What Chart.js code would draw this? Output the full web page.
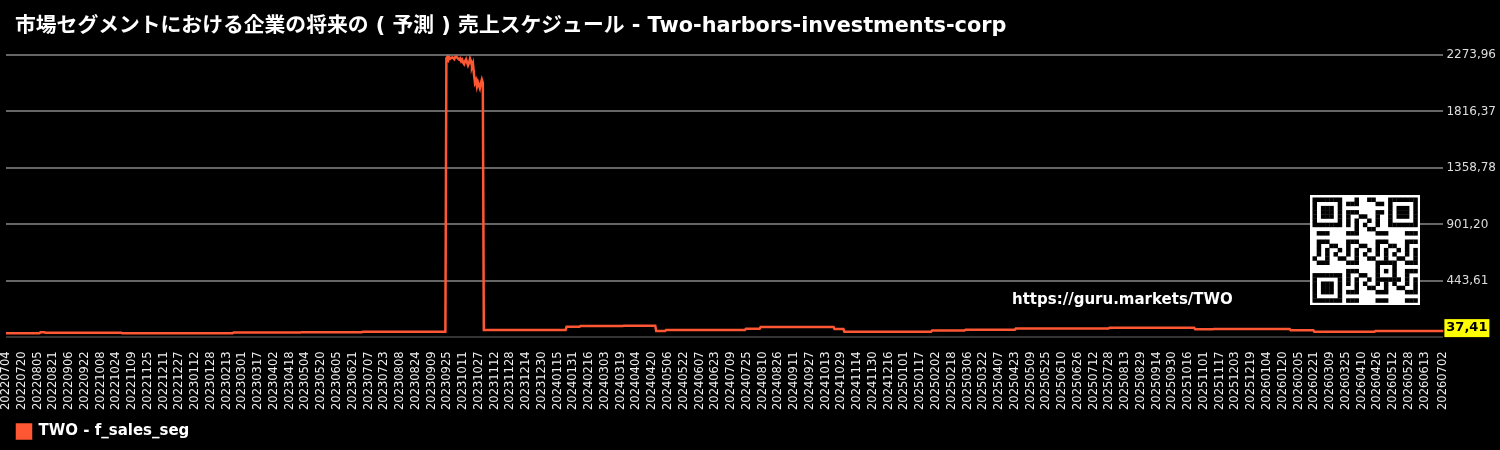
<!DOCTYPE html>
<html>
<head>
<meta charset="utf-8">
<script src="https://cdn.jsdelivr.net/npm/chart.js@4.4.0/dist/chart.umd.min.js"></script>
<style>
  html, body { margin: 0; padding: 0; background: #000; }
  #wrap { width: 1500px; height: 450px; }
</style>
</head>
<body>
<div id="wrap"><canvas id="salesChart" width="1500" height="450"></canvas></div>
<script>
// Données
const chartTitle = '市場セグメントにおける企業の将来の ( 予測 ) 売上スケジュール - Two-harbors-investments-corp';
const firstDay = '20220704';
const lastDay = '20260702';
const seriesName = 'TWO - f_sales_seg';
const lineColor = '#ff5733';

// paliers : date de début -> valeur
const segStart = ['20220704', '20220808', '20220813', '20221030', '20230220', '20230430', '20230701',
  '20231101', '20240124', '20240207', '20240322', '20240424', '20240504', '20240724', '20240808',
  '20241022', '20241101', '20250129', '20250304', '20250424', '20250728', '20251023', '20251111',
  '20260128', '20260221', '20260424'];
const segValue = [21, 29, 24, 21, 27, 29, 32,
  47, 73, 78, 81, 38, 46, 57, 70,
  54, 33, 43, 49, 58, 65, 53, 55,
  45, 33, 37.41];

// pic journalier (fin 2023)
const spikeStart = '20230924';
const spikeValues = [2248, 2258, 2235, 2255, 2244, 2252, 2255, 2250, 2240, 2258, 2260, 2252, 2244, 2236,
  2246, 2225, 2236, 2212, 2200, 2226, 2240, 2215, 2190, 2208, 2245, 2225, 2180, 2205, 2120, 2050,
  2070, 2020, 2055, 2030, 2005, 2045, 2075, 2050];

const yTicks = [-13.98, 443.61, 901.20, 1358.78, 1816.37, 2273.96];
const lastValue = 37.41;
const siteUrl = 'https://guru.markets/TWO';

// dates -> index
function toDate(s) {
  return new Date(Date.UTC(+s.slice(0, 4), +s.slice(4, 6) - 1, +s.slice(6, 8)));
}
function fmt(d) {
  return d.getUTCFullYear() + String(d.getUTCMonth() + 1).padStart(2, '0') + String(d.getUTCDate()).padStart(2, '0');
}
const DAY = 86400000;
const t0 = toDate(firstDay).getTime();
const nDays = Math.round((toDate(lastDay).getTime() - t0) / DAY) + 1;
const labels = [];
for (let i = 0; i < nDays; i++) labels.push(fmt(new Date(t0 + i * DAY)));
const idx = s => Math.round((toDate(s).getTime() - t0) / DAY);

const values = labels.map((_, i) => {
  let v = segValue[0];
  segStart.forEach((s, k) => { if (idx(s) <= i) v = segValue[k]; });
  return v;
});
const s0 = idx(spikeStart);
spikeValues.forEach((v, k) => { values[s0 + k] = v; });

// titre, étiquette, QR, url
const extras = {
  id: 'extras',
  afterLayout(chart) {
    // décale la légende vers la droite
    chart.legend.left += 7;
    chart.legend.right += 7;
  },
  afterDraw(chart) {
    const c = chart.ctx;
    const area = chart.chartArea;
    const y = chart.scales.y.getPixelForValue(lastValue);
    c.save();
    // titre
    c.fillStyle = '#fff';
    c.font = 'bold 20.8px "DejaVu Sans", "Noto Sans CJK JP"';
    c.textAlign = 'left';
    c.textBaseline = 'middle';
    c.fillText(chartTitle, 15, 27);
    // boîte jaune
    c.fillStyle = '#ffff00';
    c.fillRect(area.right + 1, y - 12, 45, 18);
    c.fillStyle = '#000';
    c.font = 'bold 13px "DejaVu Sans"';
    c.textAlign = 'center';
    c.fillText(lastValue.toFixed(2).replace('.', ','), area.right + 23.5, y - 3);
    // url
    c.fillStyle = '#fff';
    c.font = 'bold 15px "DejaVu Sans"';
    c.textAlign = 'left';
    c.fillText(siteUrl, 1012, 300);
    // faux QR
    const qx = 1310, qy = 195, qs = 110, n = 25, m = 4.2, o = 2.5;
    c.fillStyle = '#fff';
    c.fillRect(qx, qy, qs, qs);
    c.fillStyle = '#000';
    const finder = (r0, c0, size) => {
      for (let r = 0; r < size; r++) for (let k = 0; k < size; k++) {
        const d = Math.max(Math.abs(r - (size - 1) / 2), Math.abs(k - (size - 1) / 2));
        if (d === (size - 1) / 2 || d <= (size - 1) / 2 - 2)
          c.fillRect(qx + o + (c0 + k) * m, qy + o + (r0 + r) * m, m + 0.3, m + 0.3);
      }
    };
    for (let r = 0; r < n; r++) for (let k = 0; k < n; k++) {
      const inF = (r < 8 && k < 8) || (r < 8 && k > 16) || (r > 16 && k < 8) || (r > 14 && r < 20 && k > 14 && k < 20);
      if (inF) continue;
      if (((r * r * 3 + k * 5 + r * k) % 7) < 3)
        c.fillRect(qx + o + k * m, qy + o + r * m, m + 0.3, m + 0.3);
    }
    finder(0, 0, 7); finder(0, 18, 7); finder(18, 0, 7); finder(15, 15, 5);
    c.restore();
  }
};

const ctx = document.getElementById('salesChart').getContext('2d');
const salesChart = new Chart(ctx, {
  type: 'line',
  data: {
    labels: labels,
    datasets: [{
      label: seriesName,
      data: values,
      borderColor: lineColor,
      backgroundColor: lineColor,
      borderWidth: 2.5,
      pointRadius: 0,
      fill: false,
      tension: 0
    }]
  },
  options: {
    responsive: false,
    animation: false,
    devicePixelRatio: 1,
    layout: { padding: { left: 2, right: 1, top: 55, bottom: 1 } },
    scales: {
      x: {
        grid: { display: false },
        border: { display: false },
        ticks: {
          autoSkip: false,
          maxRotation: 90,
          minRotation: 90,
          padding: 6,
          color: '#eee',
          font: { family: 'DejaVu Sans', size: 11.5 },
          callback: (v, i) => ((i % 16 === 0 && i < nDays - 8) || i === nDays - 1) ? labels[i] : ''
        }
      },
      y: {
        position: 'right',
        min: yTicks[0],
        max: yTicks[yTicks.length - 1],
        afterBuildTicks: axis => { axis.ticks = yTicks.map(v => ({ value: v })); },
        border: { display: false },
        grid: {
          color: c => c.index === 0 ? '#333' : '#666',
          lineWidth: 2,
          drawTicks: false
        },
        ticks: {
          color: '#ddd',
          padding: 3,
          font: { family: 'DejaVu Sans', size: 12 },
          callback: (v, i) => i === 0 ? '' : v.toFixed(2).replace('.', ',')
        }
      }
    },
    plugins: {
      title: { display: false },
      legend: {
        position: 'bottom',
        align: 'start',
        labels: {
          color: '#fff',
          boxWidth: 14,
          boxHeight: 14,
          padding: 8,
          font: { family: 'DejaVu Sans', size: 15, weight: 'bold' }
        }
      },
      tooltip: { enabled: false }
    }
  },
  plugins: [extras]
});
</script>
</body>
</html>
